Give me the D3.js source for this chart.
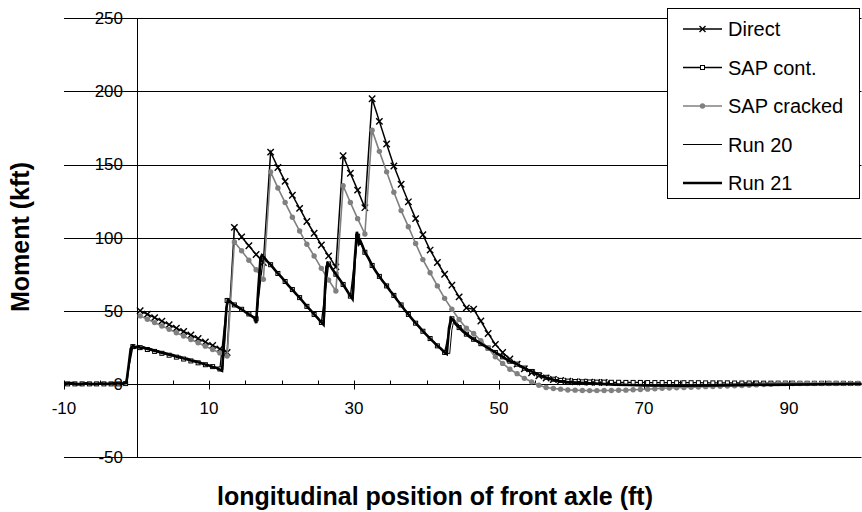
<!DOCTYPE html>
<html><head><meta charset="utf-8">
<script src="https://cdn.jsdelivr.net/npm/d3@7/dist/d3.min.js"></script>
<style>body{margin:0;background:#fff} svg{display:block} text{font-family:"Liberation Sans",Arial,sans-serif;fill:#000}</style>
</head><body><svg id="c" width="862" height="512"></svg>
<script>
// ---------- data ----------
const seriesNames = ["Direct", "SAP cont.", "SAP cracked", "Run 20", "Run 21"];
const yTickValues = [-50, 0, 50, 100, 150, 200, 250];
const xTickLabels = [-10, 10, 30, 50, 70, 90];
const xLabel = "longitudinal position of front axle (ft)";
const yLabel = "Moment (kft)";

const directX = [0.5,1.5,2.5,3.5,4.5,5.5,6.5,7.5,8.5,9.5,10.5,11.5,12.5,13.5,14.5,15.5,16.5,17.5,18.5,19.5,20.5,21.5,22.5,23.5,24.5,25.5,26.5,27.5,28.5,29.5,30.5,31.5,32.5,33.5,34.5,35.5,36.5,37.5,38.5,39.5,40.5,41.5,42.5,43.5,44.5,45.5,46.5,47.5,48.5,49.5,50.5,51.5,52.5,53.5,54.5,55.5,56.5,57.5,58.5,59.5,60.5,61.5,62.5,63.5,64.5];
const directY = [50,47.6,45.3,42.9,40.5,38.1,35.8,33.4,31,28.6,26.3,23.9,21.5,107,100.5,94.5,88.5,83,158.5,148,138.5,129,120,111,103,95,87.5,80,156,144,132.5,120.5,195,179.5,164,149,136.5,124.5,113,102,91.5,83,75,67.5,59.5,52,51,43,34.5,27,21.5,17,13.5,10.3,7.6,5.5,4,3,2.3,1.8,1.5,1.3,1.1,1,0.9];

const sapContX = [-9.5,-8.5,-7.5,-6.5,-5.5,-4.5,-3.5,-2.5,-1.5,-0.5,0.5,1.5,2.5,3.5,4.5,5.5,6.5,7.5,8.5,9.5,10.5,11.5,12.5,13.5,14.5,15.5,16.5,17.5,18.5,19.5,20.5,21.5,22.5,23.5,24.5,25.5,26.5,27.5,28.5,29.5,30.5,31.5,32.5,33.5,34.5,35.5,36.5,37.5,38.5,39.5,40.5,41.5,42.5,43.5,44.5,45.5,46.5,47.5,48.5,49.5,50.5,51.5,52.5,53.5,54.5,55.5,56.5,57.5,58.5,59.5,60.5,61.5,62.5,63.5,64.5,65.5,66.5,67.5,68.5,69.5,70.5,71.5,72.5,73.5,74.5,75.5,76.5,77.5,78.5,79.5,80.5,81.5,82.5,83.5,84.5,85.5,86.5,87.5,88.5,89.5,90.5,91.5,92.5,93.5,94.5,95.5,96.5,97.5,98.5,99.5];
const sapContY = [0,0,0,0,0,0,0,0,0.2,25.5,24.8,23.5,22.2,20.9,19.6,18.3,17,15.7,14.4,13.1,11.8,10.2,57,54,51,47.8,44.5,87,81.5,75.5,70,64.5,59,53,47.5,42,82,75,68,60,101,90,81,73.5,67,60.5,54,47.5,41.5,36,31,26,21.5,44.5,38.5,34,30.5,27.5,24.5,21.5,18.5,15.5,13.5,10.8,8.5,6.3,4.5,3.2,2.4,1.9,1.6,1.4,1.3,1.2,1.2,1.1,1.1,1.0,1.0,1.0,0.9,0.9,0.9,0.9,0.8,0.8,0.8,0.8,0.7,0.7,0.7,0.7,0.6,0.6,0.6,0.6,0.5,0.5,0.5,0.5,0.5,0.4,0.4,0.4,0.4,0.4,0.4,0.4,0.3,0.3];

const sapCrackedX = [0.5,1.5,2.5,3.5,4.5,5.5,6.5,7.5,8.5,9.5,10.5,11.5,12.5,13.5,14.5,15.5,16.5,17.5,18.5,19.5,20.5,21.5,22.5,23.5,24.5,25.5,26.5,27.5,28.5,29.5,30.5,31.5,32.5,33.5,34.5,35.5,36.5,37.5,38.5,39.5,40.5,41.5,42.5,43.5,44.5,45.5,46.5,47.5,48.5,49.5,50.5,51.5,52.5,53.5,54.5,55.5,56.5,57.5,58.5,59.5,60.5,61.5,62.5,63.5,64.5,65.5,66.5,67.5,68.5,69.5,70.5,71.5,72.5,73.5,74.5,75.5,76.5,77.5,78.5,79.5,80.5,81.5,82.5,83.5,84.5,85.5,86.5,87.5,88.5,89.5,90.5,91.5,92.5,93.5,94.5,95.5,96.5,97.5,98.5,99.5];
const sapCrackedY = [46.5,44.2,41.9,39.6,37.3,35,32.7,30.4,28.1,25.8,23.5,21.2,19,97,91,84.5,78,71.5,145,134,124,114,104.5,95.5,87.5,79,71,63.5,135.5,124,113,102.5,173.5,159,145,131,118.5,107.5,96,85,76,67,58.5,51,44,38,34.5,29.5,24.5,18.5,14,10,7,3.8,1.4,-0.9,-2.5,-3.2,-3.6,-4.2,-4.3,-4.5,-4.6,-4.6,-4.5,-4.5,-4.4,-4.3,-4.0,-3.8,-3.6,-3.3,-3.0,-2.8,-2.6,-2.5,-2.3,-2.1,-1.9,-1.8,-1.6,-1.4,-1.3,-1.1,-0.9,-0.7,-0.5,-0.3,0.2,0.3,0.3,0.3,0.3,0.3,0.3,0.3,0.3,0.3,0.3,0.3];

const run20X = [-10,-9,-8,-7,-6,-5,-4,-3,-2,-1.3,-1.0,-0.7,-0.4,0,0.4,0.8,1.2,1.7,2.2,2.7,3.2,3.7,4.2,4.7,5.2,5.7,6.2,6.7,7.2,7.7,8.2,8.7,9.2,9.7,10.2,10.7,11.2,11.6,11.9,12.2,12.5,12.7,13.1,13.6,14.1,14.6,15.1,15.6,16.1,16.4,16.6,16.9,17.2,17.4,17.7,18.1,18.6,19.1,19.6,20.1,20.6,21.1,21.6,22.1,22.6,23.1,23.6,24.1,24.6,25.1,25.6,25.9,26.1,26.3,26.5,26.8,27.1,27.6,28.1,28.6,29.1,29.6,29.9,30.2,30.5,30.8,31,31.3,31.6,32.1,32.6,33.1,33.6,34.1,34.6,35.1,35.6,36.1,36.6,37.1,37.6,38.1,38.6,39.1,39.6,40.1,40.6,41.1,41.6,42.1,42.6,43.2,43.5,43.8,44.1,44.5,45,45.5,46,46.5,47,47.5,48,48.5,49,49.5,50,50.5,51,51.5,52,52.5,53,54,55,56,57,58,59,60,62,64,66,68,70,75,80,85,90,95,100];
const run20Y = [0.3,-0.2,0.4,0,0.5,-0.1,0.3,0,0.4,0.3,13,24.5,25.6,24.6,25.2,24.2,24.6,23.4,23.2,22.2,21.8,20.9,20.5,19.6,19.2,18.2,17.9,17,16.6,15.7,15.1,14.4,13.7,13,12.2,11.4,10.6,9.8,9.5,32,53,56.8,55.5,53.6,52,50.6,49,47.4,45.8,44.6,42,66,85.5,87.5,86,83.8,81,78,75.2,72.4,69.6,66.8,64,61.2,58.4,55.6,52.8,50,47.2,44.4,41.8,41,64,79,82,80.4,78,74.4,71,67.4,63.6,59.8,58.5,84,102.5,96.5,97,93.5,89.6,85.4,80.6,76.6,73,69.6,66.4,63,60,56.6,53.4,50,47,44,41.2,38.6,35.8,33.2,30.8,28.4,26,23.8,21.6,20.6,37,44,42.6,40,37.2,35,33,31.2,29.6,28,26.5,25,23.4,21.9,20.4,18.9,17.4,16,14.8,13.8,12.5,10,7.8,5.4,3.8,2.5,1.7,1.1,0.6,0.1,-0.4,-0.7,-0.9,-1.1,-0.9,-0.6,-0.4,-0.2,0.1];

const run21X = [-10,-9,-8,-7,-6,-5,-4,-3,-2,-1.4,-1.1,-0.8,-0.5,-0.2,0.2,0.6,1,1.5,2,2.5,3,3.5,4,4.5,5,5.5,6,6.5,7,7.5,8,8.5,9,9.5,10,10.5,11,11.5,11.8,12.1,12.4,12.6,13,13.5,14,14.5,15,15.5,16,16.3,16.5,16.8,17.1,17.3,17.6,18,18.5,19,19.5,20,20.5,21,21.5,22,22.5,23,23.5,24,24.5,25,25.5,25.8,26.0,26.2,26.4,26.7,27,27.5,28,28.5,29,29.5,29.8,30.1,30.4,30.7,30.9,31.2,31.5,32,32.5,33,33.5,34,34.5,35,35.5,36,36.5,37,37.5,38,38.5,39,39.5,40,40.5,41,41.5,42,42.5,42.8,43.1,43.4,43.7,44,44.5,45,45.5,46,46.5,47,47.5,48,48.5,49,49.5,50,50.5,51,51.5,52,52.5,53,54,55,56,57,58,59,60,62,64,66,68,70,75,80,85,90,95,100];
const run21Y = [0,0.5,-0.3,0.4,-0.2,0.3,0,0.4,0.2,0.5,12,24,26,24.8,25.8,24.5,25,23.8,23.6,22.5,22.3,21.2,21,20,19.8,18.6,18.5,17.3,17.2,16,15.6,14.8,14.2,13.2,12.6,11.6,11,9.8,9,30,52,57.5,56,54,52.5,51,49.2,47.5,46,45,41.5,65,86,88,86.5,84,81.5,78.5,75.5,73,70,67,64.5,61.5,59,56,53,50.5,47.5,45,42,40.5,65,80,82.5,81,78.5,75,71.5,68,64,60,58,85,104,96,97.5,94,90,86,81,77,73.5,70,67,63.5,60.5,57,54,50.5,47.5,44.5,41.5,39,36,33.5,31,28.5,26,24,21.5,20.5,38,45,43.5,41,38.5,36,34,32,30.5,29,27.5,26,24.5,23,21.5,20,18.5,17,15.5,14.5,13.5,12,9.5,7.5,5,3.5,2.2,1.5,1,0.5,0,-0.5,-0.8,-1,-1.2,-1,-0.7,-0.5,-0.3,0];

// ---------- chart ----------
const svg = d3.select("#c");
const x = d3.scaleLinear().domain([-10, 100]).range([64, 861.5]);
const y = d3.scaleLinear().domain([-50, 250]).range([457, 18.3]);

// gridlines
svg.append("g").selectAll("line").data(yTickValues).join("line")
  .attr("x1", x(-10)).attr("x2", x(100))
  .attr("y1", d => Math.round(y(d)) + 0.5).attr("y2", d => Math.round(y(d)) + 0.5)
  .attr("stroke", "#000").attr("stroke-width", 1);

// vertical axis at x=0
const x0 = Math.round(x(0)) + 0.5;
svg.append("line").attr("x1", x0).attr("x2", x0)
  .attr("y1", Math.round(y(250)) + 0.5).attr("y2", Math.round(y(-50)) + 0.5)
  .attr("stroke", "#000");

// x axis ticks along y=0
const y0 = Math.round(y(0)) + 0.5;
const tickVals = d3.range(-10, 101, 5);
svg.append("g").selectAll("line").data(tickVals).join("line")
  .attr("x1", d => Math.round(x(d)) + 0.5).attr("x2", d => Math.round(x(d)) + 0.5)
  .attr("y1", y0 - 4)
  .attr("y2", d => ((d + 10) % 20 === 0) ? y0 + 5 : y0)
  .attr("stroke", "#000");

// y tick labels
svg.append("g").selectAll("text").data(yTickValues).join("text")
  .attr("x", 123).attr("y", d => y(d)).attr("dy", "0.35em")
  .attr("text-anchor", "end").style("font-size", "17px")
  .text(d => d);

// x tick labels
svg.append("g").selectAll("text").data(xTickLabels).join("text")
  .attr("x", d => x(d)).attr("y", 408).attr("dy", "0.35em")
  .attr("text-anchor", "middle").style("font-size", "17px")
  .text(d => d);

// axis titles
svg.append("text").attr("transform", "translate(20,237) rotate(-90)")
  .attr("text-anchor", "middle").attr("dy", "0.35em")
  .style("font-size", "25px").style("font-weight", "bold").text(yLabel);
svg.append("text").attr("x", 435).attr("y", 496).attr("dy", "0.35em")
  .attr("text-anchor", "middle")
  .style("font-size", "25px").style("font-weight", "bold").text(xLabel);

// series
const line = d3.line().x(d => x(d[0])).y(d => y(d[1]));
const zip = (a, b) => a.map((v, i) => [v, b[i]]);

const direct = zip(directX, directY);
const sapCont = zip(sapContX, sapContY);
const sapCracked = zip(sapCrackedX, sapCrackedY);
const run20 = zip(run20X, run20Y);
const run21 = zip(run21X, run21Y);

const plot = svg.append("g");

function drawX(g, px, py, s) {
  g.append("path").attr("d", `M${px-s},${py-s}L${px+s},${py+s}M${px-s},${py+s}L${px+s},${py-s}`)
    .attr("stroke", "#000").attr("stroke-width", 1.4).attr("fill", "none");
}

// Direct
plot.append("path").datum(direct).attr("d", line).attr("fill", "none").attr("stroke", "#000").attr("stroke-width", 1.5);
const gx = plot.append("g");
direct.forEach(d => drawX(gx, x(d[0]), y(d[1]), 3.2));

// SAP cont.
plot.append("path").datum(sapCont).attr("d", line).attr("fill", "none").attr("stroke", "#000").attr("stroke-width", 1.3);
plot.append("g").selectAll("rect").data(sapCont).join("rect")
  .attr("x", d => x(d[0]) - 2).attr("y", d => y(d[1]) - 2).attr("width", 4).attr("height", 4)
  .attr("fill", "#fff").attr("stroke", "#000").attr("stroke-width", 1);

// SAP cracked
plot.append("path").datum(sapCracked).attr("d", line).attr("fill", "none").attr("stroke", "#808080").attr("stroke-width", 1.6);
plot.append("g").selectAll("circle").data(sapCracked).join("circle")
  .attr("cx", d => x(d[0])).attr("cy", d => y(d[1])).attr("r", 2.7).attr("fill", "#808080");

// Runs
plot.append("path").datum(run20).attr("d", line).attr("fill", "none").attr("stroke", "#000").attr("stroke-width", 1);
plot.append("path").datum(run21).attr("d", line).attr("fill", "none").attr("stroke", "#000").attr("stroke-width", 2.6);

// legend
const lg = svg.append("g");
lg.append("rect").attr("x", 667.5).attr("y", 8.5).attr("width", 192).attr("height", 190)
  .attr("fill", "#fff").attr("stroke", "#000").attr("stroke-width", 1);
seriesNames.forEach((name, i) => {
  const ly = 29 + i * 38.5;
  const stroke = i === 2 ? "#808080" : "#000";
  const sw = [1.5, 1.3, 1.6, 1, 2.6][i];
  lg.append("line").attr("x1", 683).attr("x2", 722).attr("y1", ly).attr("y2", ly)
    .attr("stroke", stroke).attr("stroke-width", sw);
  if (i === 0) drawX(lg, 702.5, ly, 3);
  if (i === 1) lg.append("rect").attr("x", 700.5).attr("y", ly - 2).attr("width", 4).attr("height", 4)
    .attr("fill", "#fff").attr("stroke", "#000");
  if (i === 2) lg.append("circle").attr("cx", 702.5).attr("cy", ly).attr("r", 2.7).attr("fill", "#808080");
  lg.append("text").attr("x", 728).attr("y", ly).attr("dy", "0.35em")
    .style("font-size", "20px").text(name);
});
</script></body></html>
